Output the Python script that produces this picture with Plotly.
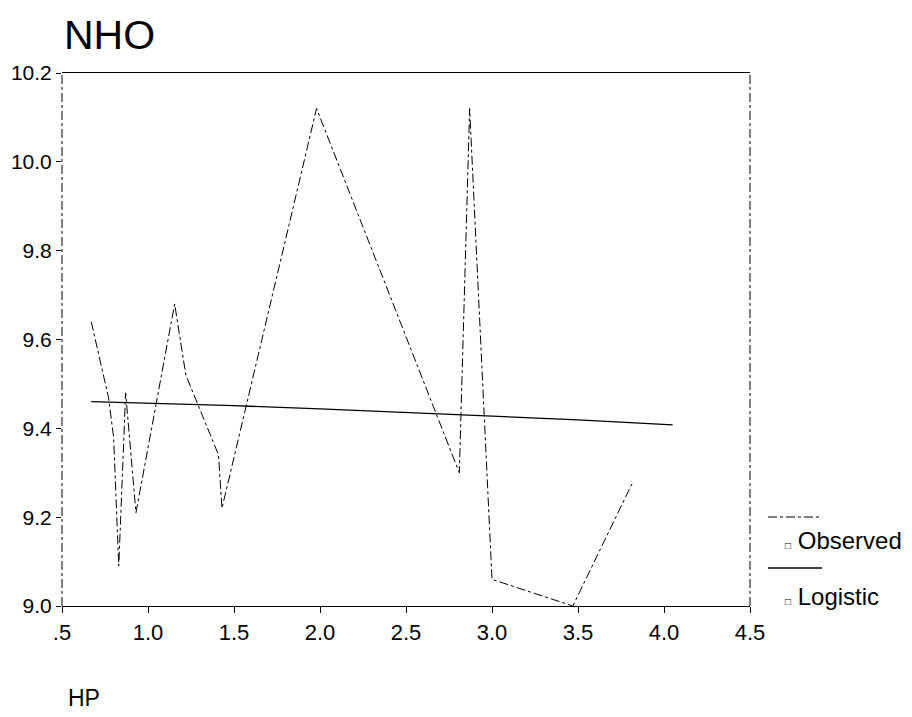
import plotly.graph_objects as go

hp_obs = [0.67, 0.77, 0.80, 0.83, 0.87, 0.93, 1.155, 1.22, 1.41, 1.43, 1.98, 2.73, 2.81, 2.87, 3.00, 3.47, 3.82]
nho_obs = [9.64, 9.47, 9.38, 9.09, 9.48, 9.21, 9.68, 9.52, 9.34, 9.22, 10.12, 9.38, 9.30, 10.12, 9.06, 9.00, 9.28]

hp_fit = [0.67, 1.0, 1.5, 2.0, 2.5, 3.0, 3.5, 4.05]
nho_fit = [9.460, 9.457, 9.451, 9.444, 9.436, 9.427, 9.419, 9.408]

x_ticks = [0.5, 1.0, 1.5, 2.0, 2.5, 3.0, 3.5, 4.0, 4.5]
x_ticktext = [".5", "1.0", "1.5", "2.0", "2.5", "3.0", "3.5", "4.0", "4.5"]
y_ticks = [9.0, 9.2, 9.4, 9.6, 9.8, 10.0, 10.2]

FONT = "Liberation Sans, Arial, sans-serif"
OFF = 8          # page body margin
PH = 533.0       # plot height in px
PW = 688.0       # plot width in px

def yp(py):
    return 1 - (py - 73) / PH

def xp(px):
    return (px - 62) / PW

fig = go.Figure()
fig.add_trace(go.Scatter(x=hp_obs, y=nho_obs, mode="lines", name="Observed",
                         line=dict(color="black", width=1, dash="dashdot"),
                         showlegend=False))
fig.add_trace(go.Scatter(x=hp_fit, y=nho_fit, mode="lines", name="Logistic",
                         line=dict(color="black", width=1.3),
                         showlegend=False))

fig.update_layout(
    width=912 - OFF, height=717 - OFF,
    margin=dict(l=62 - OFF, r=162, t=73 - OFF, b=111, autoexpand=False),
    paper_bgcolor="white", plot_bgcolor="white",
    font=dict(family=FONT, color="black", size=18),
    xaxis=dict(range=[0.5, 4.5], tickvals=x_ticks, ticktext=x_ticktext,
               automargin=False,
               showgrid=False, zeroline=False, showline=True, linecolor="black",
               linewidth=1.2, mirror=True, ticks="outside", ticklen=6,
               tickcolor="black", tickfont=dict(size=22, family=FONT)),
    yaxis=dict(range=[9.0, 10.2], tickvals=y_ticks, tickformat=".1f",
               automargin=False,
               showgrid=False, zeroline=False, showline=False,
               ticks="outside", ticklen=5, tickcolor="black",
               tickfont=dict(size=21, family=FONT)),
    shapes=[
        dict(type="line", xref="paper", yref="paper", x0=0, x1=0, y0=0, y1=1,
             line=dict(color="black", width=1, dash="dashdot")),
        dict(type="line", xref="paper", yref="paper", x0=1, x1=1, y0=0, y1=1,
             line=dict(color="black", width=1, dash="dashdot")),
        # legend samples
        dict(type="line", xref="paper", yref="paper", x0=xp(768), x1=xp(822),
             y0=yp(517), y1=yp(517),
             line=dict(color="black", width=1, dash="dashdot")),
        dict(type="line", xref="paper", yref="paper", x0=xp(768), x1=xp(822),
             y0=yp(568), y1=yp(568),
             line=dict(color="black", width=1.3)),
    ],
    annotations=[
        dict(text="NHO", xref="paper", yref="paper", x=0.0, y=yp(35),
             xanchor="left", yanchor="middle", showarrow=False,
             font=dict(size=41, family=FONT)),
        dict(text="HP", xref="paper", yref="paper", x=0.006, y=yp(698),
             xanchor="left", yanchor="middle", showarrow=False,
             font=dict(size=23, family=FONT)),
        dict(text="<span style='font-size:10px'>□</span> Observed", xref="paper", yref="paper",
             x=xp(783), y=yp(540), xanchor="left", yanchor="middle",
             showarrow=False, font=dict(size=24, family=FONT)),
        dict(text="<span style='font-size:10px'>□</span> Logistic", xref="paper", yref="paper",
             x=xp(783), y=yp(596), xanchor="left", yanchor="middle",
             showarrow=False, font=dict(size=24, family=FONT)),
    ],
)

fig.write_html("out.html")
